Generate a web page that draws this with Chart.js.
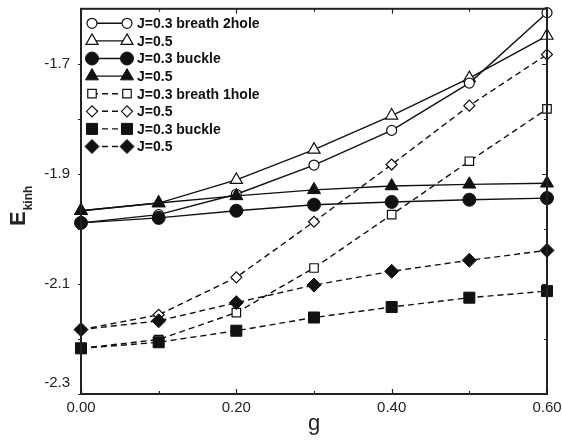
<!DOCTYPE html>
<html>
<head>
<meta charset="utf-8">
<script src="https://cdn.jsdelivr.net/npm/chart.js@4.4.1/dist/chart.umd.min.js"></script>
<style>
  html, body { margin: 0; padding: 0; background: #fff; }
  canvas { display: block; }
</style>
</head>
<body>
<canvas id="myChart" width="562" height="441"></canvas>
<script>
// coupling g on the x axis
const gVals = [0.0, 0.1, 0.2, 0.3, 0.4, 0.5, 0.6];

// kinetic energy per series
const breath2holeJ03 = [-1.989, -1.974, -1.937, -1.884, -1.821, -1.735, -1.607];
const breath2holeJ05 = [-1.967, -1.953, -1.911, -1.856, -1.794, -1.726, -1.649];
const buckle2J03 = [-1.989, -1.980, -1.967, -1.956, -1.951, -1.947, -1.944];
const buckle2J05 = [-1.967, -1.953, -1.940, -1.929, -1.922, -1.919, -1.917];
const breath1holeJ03 = [-2.217, -2.201, -2.152, -2.071, -1.974, -1.877, -1.782];
const breath1holeJ05 = [-2.183, -2.156, -2.088, -1.987, -1.883, -1.776, -1.683];
const buckle1J03 = [-2.217, -2.206, -2.185, -2.161, -2.142, -2.125, -2.113];
const buckle1J05 = [-2.183, -2.167, -2.134, -2.102, -2.077, -2.057, -2.039];

const seriesLabels = ["J=0.3 breath 2hole", "J=0.5", "J=0.3 buckle", "J=0.5",
                      "J=0.3 breath 1hole", "J=0.5", "J=0.3 buckle", "J=0.5"];

// axis ticks
const xMajor = [0.0, 0.2, 0.4, 0.6];
const xMinor = [0.1, 0.3, 0.5];
const yMajor = [-2.3, -2.1, -1.9, -1.7];
const yMinor = [-2.2, -2.0, -1.8];

const FONT = '"Liberation Sans", Arial, Helvetica, sans-serif';
const INK = "#111";

function makeSet(label, values, style, radius, filled, dashed) {
  return {
    label: label,
    data: gVals.map((g, i) => ({ x: g, y: values[i] })),
    borderColor: INK,
    borderWidth: 1.4,
    borderDash: dashed ? [6, 4] : [],
    pointStyle: style,
    pointRadius: radius,
    pointHoverRadius: radius,
    pointBackgroundColor: filled ? INK : "#fff",
    pointBorderColor: INK,
    pointBorderWidth: filled ? 1 : 1.2,
    tension: 0,
    clip: false,
    // filled markers sit on top of the open ones
    order: filled ? 0 : 1
  };
}

const datasets = [
  makeSet(seriesLabels[0], breath2holeJ03, "circle", 5, false, false),
  makeSet(seriesLabels[1], breath2holeJ05, "triangle", 7, false, false),
  makeSet(seriesLabels[2], buckle2J03, "circle", 6.5, true, false),
  makeSet(seriesLabels[3], buckle2J05, "triangle", 7.5, true, false),
  makeSet(seriesLabels[4], breath1holeJ03, "rect", 6, false, true),
  makeSet(seriesLabels[5], breath1holeJ05, "rectRot", 5.5, false, true),
  makeSet(seriesLabels[6], buckle1J03, "rect", 7.8, true, true),
  makeSet(seriesLabels[7], buckle1J05, "rectRot", 7, true, true)
];

// box, inward ticks, tick labels and axis titles
const framePlugin = {
  id: "frame",
  afterDatasetsDraw(chart) {
    const ctx = chart.ctx;
    const a = chart.chartArea;
    const xs = chart.scales.x, ys = chart.scales.y;
    ctx.save();
    ctx.strokeStyle = "#222";
    ctx.lineWidth = 2;
    ctx.strokeRect(a.left, a.top, a.right - a.left, a.bottom - a.top);

    ctx.lineWidth = 1.2;
    ctx.beginPath();
    xMajor.concat(xMinor).forEach(v => {
      const len = xMajor.includes(v) ? 5 : 3;
      const px = Math.round(xs.getPixelForValue(v)) + 0.5;
      ctx.moveTo(px, a.bottom); ctx.lineTo(px, a.bottom - len);
      ctx.moveTo(px, a.top); ctx.lineTo(px, a.top + len);
    });
    yMajor.concat(yMinor).forEach(v => {
      const len = yMajor.includes(v) ? 5 : 3;
      const py = Math.round(ys.getPixelForValue(v)) + 0.5;
      ctx.moveTo(a.left, py); ctx.lineTo(a.left - 3, py);
      ctx.moveTo(a.right, py); ctx.lineTo(a.right - len, py);
    });
    ctx.stroke();

    ctx.fillStyle = "#222";
    ctx.font = "15px " + FONT;
    ctx.textAlign = "right";
    ctx.textBaseline = "middle";
    yMajor.forEach(v => {
      let py = ys.getPixelForValue(v);
      if (v === yMajor[0]) py -= 11;
      ctx.fillText(v.toFixed(1), a.left - 11, py);
    });
    ctx.textAlign = "center";
    xMajor.forEach(v => {
      ctx.fillText(v.toFixed(2), xs.getPixelForValue(v), a.bottom + 14);
    });

    // x title
    ctx.font = "22px " + FONT;
    ctx.textBaseline = "alphabetic";
    ctx.fillText("g", (a.left + a.right) / 2, a.bottom + 36);

    // y title E_kinh
    ctx.translate(25, 226);
    ctx.rotate(-Math.PI / 2);
    ctx.textAlign = "left";
    ctx.font = "bold 22px " + FONT;
    ctx.fillText("E", 0, 0);
    const ew = ctx.measureText("E").width;
    ctx.font = "bold 12px " + FONT;
    ctx.fillText("kinh", ew + 1, 7);
    ctx.restore();
  }
};

// legend with a marker at each end of the line sample
const legendPlugin = {
  id: "lineLegend",
  afterDraw(chart) {
    const ctx = chart.ctx;
    const x0 = 92, x1 = 127, tx = 137;
    const top = 23.3, step = 17.6;
    ctx.save();
    chart.data.datasets.forEach((ds, i) => {
      const y = top + i * step;
      ctx.strokeStyle = INK;
      ctx.lineWidth = ds.borderWidth;
      ctx.setLineDash(ds.borderDash);
      ctx.beginPath();
      ctx.moveTo(x0, y); ctx.lineTo(x1, y);
      ctx.stroke();
      ctx.setLineDash([]);
      [x0, x1].forEach(px => {
        ctx.fillStyle = ds.pointBackgroundColor;
        ctx.strokeStyle = ds.pointBorderColor;
        ctx.lineWidth = ds.pointBorderWidth;
        Chart.helpers.drawPoint(ctx, {
          pointStyle: ds.pointStyle,
          radius: ds.pointRadius,
          rotation: 0,
          borderWidth: ds.pointBorderWidth
        }, px, y);
      });
      ctx.fillStyle = INK;
      ctx.font = "bold 14px " + FONT;
      ctx.textAlign = "left";
      ctx.textBaseline = "middle";
      ctx.fillText(ds.label, tx, y + 1);
    });
    ctx.restore();
  }
};

const ctx = document.getElementById("myChart").getContext("2d");
const myChart = new Chart(ctx, {
  type: "line",
  data: { datasets: datasets },
  options: {
    responsive: false,
    animation: false,
    layout: { padding: { left: 81, right: 15, top: 5, bottom: 47 } },
    plugins: {
      legend: { display: false },
      tooltip: { enabled: false }
    },
    scales: {
      x: { type: "linear", min: 0, max: 0.6, display: false },
      y: { type: "linear", min: -2.3, max: -1.6, display: false }
    }
  },
  plugins: [framePlugin, legendPlugin]
});
</script>
</body>
</html>
